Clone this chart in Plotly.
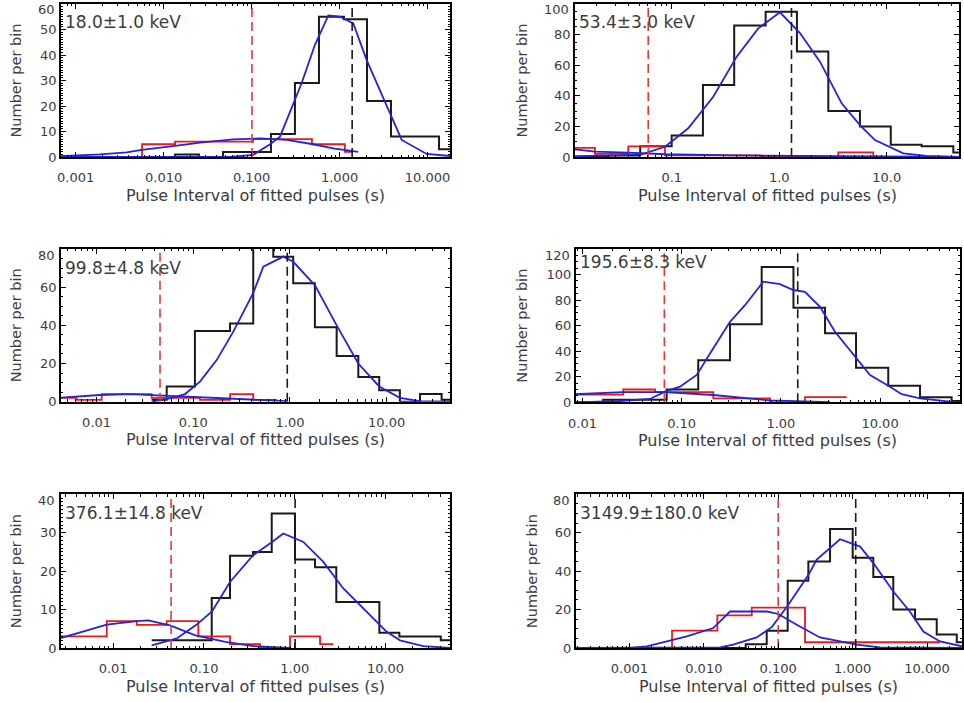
import plotly.graph_objects as go

W, H = 964, 702

# ---------------- Panel 1 ----------------
p1_label = "18.0±1.0 keV"
p1_black_edges = [0.0005, 0.0135, 0.0252, 0.0473, 0.166, 0.311, 0.583, 1.12, 2.05, 3.84, 13.5, 18.5]
p1_black_counts = [0, 1, 0, 2, 9, 29, 55, 54, 22, 8, 3]
p1_red_edges = [0.0005, 0.00569, 0.0135, 0.104, 0.485, 1.15, 1.42]
p1_red_counts = [0, 5, 6, 7, 5, 2]
p1_fit_x = [0.0005, 0.0568, 0.1038, 0.162, 0.2104, 0.371, 0.525, 0.745, 1.01, 1.432, 2.032, 2.805, 3.908, 5.08, 9.77, 18.0]
p1_fit_y = [0, 0, 0.8, 5, 8, 29, 44, 55.5, 55, 52.4, 38, 27, 15.8, 6.7, 1.2, 0.4]
p1_fit2_x = [0.000682, 0.00189, 0.00381, 0.00564, 0.01349, 0.02594, 0.0619, 0.1245, 0.2506, 0.482, 0.847, 1.632]
p1_fit2_y = [0.3, 1, 1.8, 2.8, 4.4, 5.6, 6.9, 7.3, 6.7, 5.1, 3.4, 2]
p1_red_cut = 0.101
p1_black_cut = 1.39
p1_xticks = ["0.001", "0.010", "0.100", "1.000", "10.000"]

# ---------------- Panel 2 ----------------
p2_label = "53.4±3.0 keV"
p2_black_edges = [0.00681, 0.01333, 0.02606, 0.0509, 0.0998, 0.195, 0.381, 0.747, 1.46, 2.86, 5.63, 10.9, 21.1, 41.6, 80.2]
p2_black_counts = [0, 0, 1, 7, 14, 47, 86, 95, 69, 30, 20, 8, 7, 3]
p2_red_edges = [0.011, 0.0193, 0.0394, 0.0865, 0.661, 3.54, 7.49, 10.3]
p2_red_counts = [6, 2, 7, 1, 0, 3, 0]
p2_fit_x = [0.0126, 0.033, 0.0543, 0.0865, 0.1423, 0.2432, 0.4018, 0.6377, 1.015, 1.558, 2.391, 3.806, 5.632, 7.763, 14.24, 23.5, 47]
p2_fit_y = [0.5, 1, 2, 6.7, 18.8, 39.4, 65.6, 84.1, 94.6, 81, 62.3, 35.1, 20.9, 11.1, 2.4, 0.7, 0]
p2_fit2_x = [0.0126, 0.0193, 0.0394, 0.0543, 0.0865, 0.3733, 2.058, 9.98, 47]
p2_fit2_y = [5, 3.5, 2.8, 2.4, 1.8, 1.1, 0.6, 0.2, 0]
p2_red_cut = 0.0604
p2_black_cut = 1.30
p2_xticks = ["0.001", "0.01", "0.1", "1.0", "10.0"]

# ---------------- Panel 3 ----------------
p3_label = "99.8±4.8 keV"
p3_black_edges = [0.0371, 0.0531, 0.104, 0.240, 0.417, 0.672, 1.08, 1.81, 3.04, 5.09, 8.38, 13.7, 22.1, 37.0, 47.3]
p3_black_counts = [1, 8, 37, 41, 84, 76, 62, 39, 24, 13, 6, 0, 4, 1]
p3_red_edges = [0.004, 0.00622, 0.0113, 0.0371, 0.1173, 0.240, 0.417, 0.729]
p3_red_counts = [2, 1, 4, 2, 1, 4, 1]
p3_fit_x = [0.0371, 0.0574, 0.0821, 0.1173, 0.1746, 0.2594, 0.4174, 0.5297, 0.8525, 1.082, 1.814, 3.040, 5.083, 8.386, 13.72, 22.09, 47.3]
p3_fit_y = [0, 1.8, 4, 10.5, 21.8, 36.7, 57, 70.7, 76, 73.3, 61, 40, 20, 8, 2, 0.3, 0]
p3_fit2_x = [0.004, 0.01084, 0.0221, 0.0371, 0.1173, 0.4174, 0.9245]
p3_fit2_y = [2, 3.5, 4, 3.5, 2, 0.8, 0.3]
p3_red_cut = 0.0453
p3_black_cut = 0.938
p3_xticks = ["0.001", "0.01", "0.10", "1.00", "10.00"]

# ---------------- Panel 4 ----------------
p4_label = "195.6±8.3 keV"
p4_black_edges = [0.0078, 0.0162, 0.0339, 0.0706, 0.147, 0.307, 0.641, 1.34, 2.79, 5.73, 12.1, 25.3, 52.7, 109]
p4_black_counts = [0, 2, 2, 10, 33, 61, 106, 74, 54, 27, 13, 4, 1]
p4_red_edges = [0.0084, 0.0258, 0.0539, 0.2085, 0.778, 1.75, 4.61]
p4_red_counts = [6, 10, 8, 3, 0, 4]
p4_fit_x = [0.0084, 0.0239, 0.048, 0.0679, 0.0962, 0.1419, 0.2085, 0.3072, 0.435, 0.665, 0.980, 1.335, 1.752, 2.481, 3.515, 5.815, 7.920, 12.60, 16.52, 25.27, 50.7, 68.5]
p4_fit_y = [0, 1, 2.6, 8.3, 12.2, 21.4, 42.3, 63, 76, 94.4, 92.5, 87.9, 86.5, 74.8, 55.2, 34.4, 21.4, 12.2, 6.3, 3.1, 0.5, 0.2]
p4_fit2_x = [0.0084, 0.0256, 0.0679, 0.2085, 0.777, 1.752, 3.13]
p4_fit2_y = [6.3, 8, 8, 5.7, 1.5, 0.5, 0.2]
p4_red_cut = 0.0669
p4_black_cut = 1.48
p4_xticks = ["0.001", "0.01", "0.10", "1.00", "10.00"]

# ---------------- Panel 5 ----------------
p5_label = "376.1±14.8 keV"
p5_black_edges = [0.0266, 0.1219, 0.1937, 0.3475, 0.558, 1.007, 1.674, 2.87, 8.55, 14.2, 40.6, 54]
p5_black_counts = [2, 13, 24, 25, 35, 23, 21, 12, 4, 3, 2]
p5_red_edges = [0.0025, 0.00851, 0.0182, 0.0389, 0.0867, 0.194, 0.415, 0.887, 1.90, 2.66]
p5_red_counts = [3, 7, 6, 7, 3, 1, 0, 3, 1]
p5_fit_x = [0.0266, 0.0502, 0.0833, 0.1228, 0.1938, 0.3499, 0.558, 0.7487, 1.243, 2.065, 3.429, 6.209, 10.31, 14.44, 26.08, 51.3]
p5_fit_y = [0.7, 2.5, 6.1, 9.5, 17.2, 24.2, 27.5, 29.8, 27.6, 22.4, 15.5, 9.4, 4.2, 2, 0.5, 0]
p5_fit2_x = [0.0025, 0.0085, 0.0182, 0.0244, 0.0423, 0.0806, 0.1725, 0.350, 0.8875]
p5_fit2_y = [2.4, 6.1, 7, 7.2, 5.9, 3.3, 1.6, 0.5, 0]
p5_red_cut = 0.0435
p5_black_cut = 1.01
p5_xticks = ["0.001", "0.01", "0.10", "1.00", "10.00"]

# ---------------- Panel 6 ----------------
p6_label = "3149.9±180.0 keV"
p6_black_edges = [0.00018, 0.0366, 0.070, 0.134, 0.254, 0.497, 1.002, 1.897, 3.52, 6.90, 13.5, 25.1, 47]
p6_black_counts = [0, 2, 9, 35, 45, 62, 47, 37, 20, 15, 7, 3]
p6_red_edges = [0.00018, 0.00374, 0.0152, 0.0441, 0.229, 15.0]
p6_red_counts = [0, 9, 17, 21, 3]
p6_fit_x = [0.000186, 0.01652, 0.0247, 0.0514, 0.0825, 0.1367, 0.2539, 0.3293, 0.6771, 1.2573, 1.8973, 3.524, 5.907, 8.92, 14.95, 25.07, 29.54]
p6_fit_y = [0, 0.3, 1.7, 5.5, 11, 22.5, 38, 46, 56.6, 52.8, 44.2, 29.4, 18.9, 8.6, 3.4, 1.4, 0.9]
p6_fit2_x = [0.000186, 0.00102, 0.00171, 0.00589, 0.01342, 0.0225, 0.0701, 0.1003, 0.1773, 0.3646, 1.135, 2.335, 29.54]
p6_fit2_y = [0, 0.1, 0.8, 6, 10.4, 19, 19, 17.7, 12.1, 5.5, 1.7, 0.3, 0]
p6_red_cut = 0.100
p6_black_cut = 1.10
p6_xticks = ["0.001", "0.010", "0.100", "1.000", "10.000"]

xtick_vals = [0.001, 0.01, 0.1, 1, 10]

panels = [
    dict(label=p1_label, be=p1_black_edges, bc=p1_black_counts, re=p1_red_edges, rc=p1_red_counts,
         fx=p1_fit_x, fy=p1_fit_y, f2x=p1_fit2_x, f2y=p1_fit2_y, rcut=p1_red_cut, bcut=p1_black_cut, xt=p1_xticks),
    dict(label=p2_label, be=p2_black_edges, bc=p2_black_counts, re=p2_red_edges, rc=p2_red_counts,
         fx=p2_fit_x, fy=p2_fit_y, f2x=p2_fit2_x, f2y=p2_fit2_y, rcut=p2_red_cut, bcut=p2_black_cut, xt=p2_xticks),
    dict(label=p3_label, be=p3_black_edges, bc=p3_black_counts, re=p3_red_edges, rc=p3_red_counts,
         fx=p3_fit_x, fy=p3_fit_y, f2x=p3_fit2_x, f2y=p3_fit2_y, rcut=p3_red_cut, bcut=p3_black_cut, xt=p3_xticks),
    dict(label=p4_label, be=p4_black_edges, bc=p4_black_counts, re=p4_red_edges, rc=p4_red_counts,
         fx=p4_fit_x, fy=p4_fit_y, f2x=p4_fit2_x, f2y=p4_fit2_y, rcut=p4_red_cut, bcut=p4_black_cut, xt=p4_xticks),
    dict(label=p5_label, be=p5_black_edges, bc=p5_black_counts, re=p5_red_edges, rc=p5_red_counts,
         fx=p5_fit_x, fy=p5_fit_y, f2x=p5_fit2_x, f2y=p5_fit2_y, rcut=p5_red_cut, bcut=p5_black_cut, xt=p5_xticks),
    dict(label=p6_label, be=p6_black_edges, bc=p6_black_counts, re=p6_red_edges, rc=p6_red_counts,
         fx=p6_fit_x, fy=p6_fit_y, f2x=p6_fit2_x, f2y=p6_fit2_y, rcut=p6_red_cut, bcut=p6_black_cut, xt=p6_xticks),
]

# layout geometry (pixels): left, right, top, bottom
geom = [
    (61, 450, 4, 157), (575, 959, 4, 157),
    (61, 450, 249, 401.7), (575.7, 960, 249, 402.3),
    (61, 450, 494.3, 648), (575.7, 962, 494.3, 648),
]
label_offsets = [18, 18, 19, 13, 19, 19]
xranges = [(-3.166, 1.255), (-1.900, 1.672), (-2.368, 1.655), (-2.068, 1.806), (-2.574, 1.710), (-3.722, 1.470)]
yranges = [(0, 60), (0, 100), (0, 80), (0, 120), (0, 40), (0, 80)]
ydticks = [10, 20, 20, 20, 10, 20]
yminor = [1, 5, 5, 5, 1, 5]

minor_vals = [k * 10.0 ** n for n in range(-5, 3) for k in range(2, 10)]

BLACK = "#1a1a1a"
RED = "#f01818"
REDDASH = "#e03a3a"
BLUE = "#2323d8"
TXT = "#3c3c3c"
FONT = "DejaVu Sans"

fig = go.Figure()
annotations = []

for i, (p, g, lo, xr, yr, yd, ym) in enumerate(zip(panels, geom, label_offsets, xranges, yranges, ydticks, yminor), 1):
    xa = "x" if i == 1 else f"x{i}"
    ya = "y" if i == 1 else f"y{i}"
    fig.add_trace(go.Scatter(x=p["be"], y=p["bc"] + [p["bc"][-1]], mode="lines", line_shape="hv",
                             line=dict(color=BLACK, width=2), xaxis=xa, yaxis=ya))
    fig.add_trace(go.Scatter(x=p["re"], y=p["rc"] + [p["rc"][-1]], mode="lines", line_shape="hv",
                             line=dict(color=RED, width=1.8), xaxis=xa, yaxis=ya))
    fig.add_trace(go.Scatter(x=p["f2x"], y=p["f2y"], mode="lines",
                             line=dict(color=BLUE, width=1.8), xaxis=xa, yaxis=ya))
    fig.add_trace(go.Scatter(x=p["fx"], y=p["fy"], mode="lines",
                             line=dict(color=BLUE, width=1.8), xaxis=xa, yaxis=ya))
    fig.add_trace(go.Scatter(x=[p["rcut"], p["rcut"]], y=[yr[0], yr[1]], mode="lines",
                             line=dict(color=REDDASH, width=1.6, dash="9px,5px"), xaxis=xa, yaxis=ya))
    fig.add_trace(go.Scatter(x=[p["bcut"], p["bcut"]], y=[yr[0], yr[1]], mode="lines",
                             line=dict(color=BLACK, width=1.6, dash="9px,5px"), xaxis=xa, yaxis=ya))

    l, r, t, b = g
    xdom = [l / W, r / W]
    ydom = [1 - b / H, 1 - t / H]
    xkey = "xaxis" if i == 1 else f"xaxis{i}"
    ykey = "yaxis" if i == 1 else f"yaxis{i}"
    ytv = list(range(yr[0], yr[1] + 1, yd))
    ytt = [str(v) for v in ytv[:-1]] + [""]   # top label drawn below as text, kept inside the page
    fig.update_layout(**{
        xkey: dict(domain=xdom, anchor=ya, type="log", range=list(xr), automargin=False,
                   tickmode="array", tickvals=xtick_vals, ticktext=p["xt"],
                   showline=True, linecolor="black", linewidth=1.6, mirror="allticks",
                   ticks="inside", ticklen=5, tickwidth=1, tickcolor="black",
                   minor=dict(tickmode="array", tickvals=minor_vals, ticks="inside", ticklen=2.5,
                              tickwidth=1, tickcolor="black"),
                   ticklabelstandoff=8, ticklabeloverflow="allow",
                   showgrid=False, zeroline=False,
                   tickfont=dict(family=FONT, size=13, color=TXT)),
        ykey: dict(domain=ydom, anchor=xa, range=list(yr), automargin=False,
                   tickmode="array", tickvals=ytv, ticktext=ytt,
                   showline=True, linecolor="black", linewidth=1.6, mirror="allticks",
                   ticks="inside", ticklen=5, tickwidth=1, tickcolor="black",
                   minor=dict(dtick=ym, tick0=0, ticks="inside", ticklen=2.5, tickwidth=1, tickcolor="black"),
                   ticklabeloverflow="allow",
                   showgrid=False, zeroline=False,
                   tickfont=dict(family=FONT, size=13, color=TXT)),
    })
    # top y tick label, nudged down like the original
    annotations.append(dict(text=str(yr[1]), xref="paper", yref="paper",
                            x=(l - 4) / W, y=1 - (t + 6) / H, xanchor="right", yanchor="middle",
                            showarrow=False, font=dict(family=FONT, size=13, color=TXT)))
    annotations.append(dict(text=p["label"], xref=f"{xa} domain", yref=f"{ya} domain",
                            x=0.005, y=1 - lo / (b - t), xanchor="left", yanchor="middle",
                            showarrow=False, font=dict(family=FONT, size=17, color=TXT)))
    annotations.append(dict(text="Pulse Interval of fitted pulses (s)", xref="paper", yref="paper",
                            x=(l + r) / 2 / W, y=1 - (b + 38) / H, xanchor="center", yanchor="middle",
                            showarrow=False, font=dict(family=FONT, size=16, color=TXT)))
    ytx = 16 if l < 300 else (532 if i == 6 else 522)
    annotations.append(dict(text="Number per bin", xref="paper", yref="paper", textangle=-90,
                            x=ytx / W, y=1 - (t + b) / 2 / H, xanchor="center", yanchor="middle",
                            showarrow=False, font=dict(family=FONT, size=14.5, color=TXT)))

fig.update_layout(width=W, height=H, margin=dict(l=0, r=0, t=0, b=0, autoexpand=False),
                  paper_bgcolor="white", plot_bgcolor="white", showlegend=False,
                  annotations=annotations, hovermode=False)

fig.write_html("out.html", config={"displayModeBar": False},
               post_script="document.body.style.margin='0px';")
